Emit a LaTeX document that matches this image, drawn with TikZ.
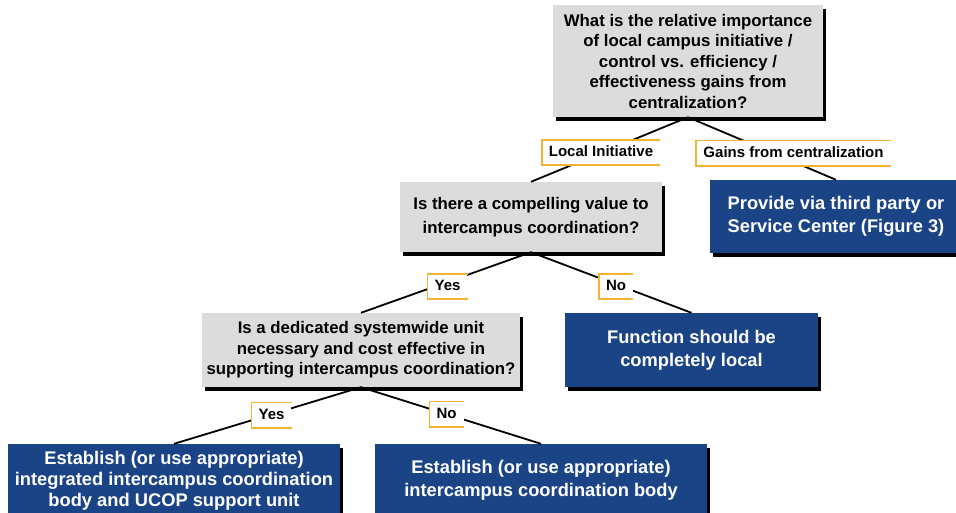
\documentclass[tikz,border=0pt]{standalone}
\usepackage{fontspec}
\setmainfont{Liberation Sans}
\usetikzlibrary{shadows}
\definecolor{ucblue}{HTML}{1B4486}
\definecolor{qgray}{HTML}{DCDCDC}
\definecolor{tagorange}{HTML}{F2B233}

\begin{document}
\begin{tikzpicture}[
    x = 1pt, y = -1pt,
    boxshadow/.style={general shadow={fill=black, shadow xshift=3pt, shadow yshift=-4pt}},
    question/.style={rectangle, fill=qgray, boxshadow, align=center, inner sep=0pt,
        font=\bfseries\fontsize{16.8}{20.5}\selectfont},
    answer/.style={rectangle, fill=ucblue, text=white, boxshadow, align=center, inner sep=0pt,
        font=\bfseries\fontsize{18.3}{23}\selectfont},
    tag/.style={rectangle, fill=white, inner xsep=7pt, inner ysep=0pt, minimum height=25pt,
        text height=11pt, text depth=3pt, font=\bfseries\fontsize{15}{18}\selectfont},
    tagline/.style={draw=tagorange, line width=1.6pt},
    branch/.style={line width=1.8pt}
]
    \useasboundingbox (0,0) rectangle (956,512);

    % questions and outcomes
    \node[question, minimum width=270pt, minimum height=112pt] (q1) at (688,61)
        {What is the relative importance\\of local campus initiative /\\control vs. efficiency /\\effectiveness gains from\\centralization?};
    \node[question, minimum width=262pt, minimum height=70pt,
        font=\bfseries\fontsize{16.8}{24}\selectfont] (q2) at (531,217)
        {Is there a compelling value to\\intercampus coordination?};
    \node[answer, minimum width=252pt, minimum height=73pt] (thirdparty) at (836,216.5)
        {Provide via third party or\\Service Center (Figure 3)};
    \node[question, minimum width=318pt, minimum height=74pt] (q3) at (361,350)
        {Is a dedicated systemwide unit\\necessary and cost effective in\\supporting intercampus coordination?};
    \node[answer, minimum width=253pt, minimum height=74pt] (local) at (691.5,350)
        {Function should be\\completely local};
    \node[answer, minimum width=332pt, minimum height=74pt,
        font=\bfseries\fontsize{18.3}{21}\selectfont] (integrated) at (174,481)
        {Establish (or use appropriate)\\integrated intercampus coordination\\body and UCOP support unit};
    \node[answer, minimum width=332pt, minimum height=72pt] (coord) at (541,480)
        {Establish (or use appropriate)\\intercampus coordination body};

    \path[branch]
        (q1.south) edge (q2.north)
        (q1.south) edge (thirdparty.north)
        (q2.south) edge (q3.north)
        (q2.south) edge (local.north)
        (q3.south) edge (integrated.north)
        (q3.south) edge (coord.north);

    % branch labels
    \node[tag] (li) at (601,152.5) {Local Initiative};
    \node[tag] (gc) at (793.5,153) {Gains from centralization};
    \node[tag] (yes1) at (447.5,286.5) {Yes};
    \node[tag] (no1) at (616,286.5) {No};
    \node[tag] (yes2) at (271.5,415) {Yes};
    \node[tag] (no2) at (446.5,414) {No};
    \foreach \t in {li,gc,yes1,no1,yes2,no2}
        \draw[tagline] (\t.north east) -| (\t.south west) -- (\t.south east);
\end{tikzpicture}
\end{document}
